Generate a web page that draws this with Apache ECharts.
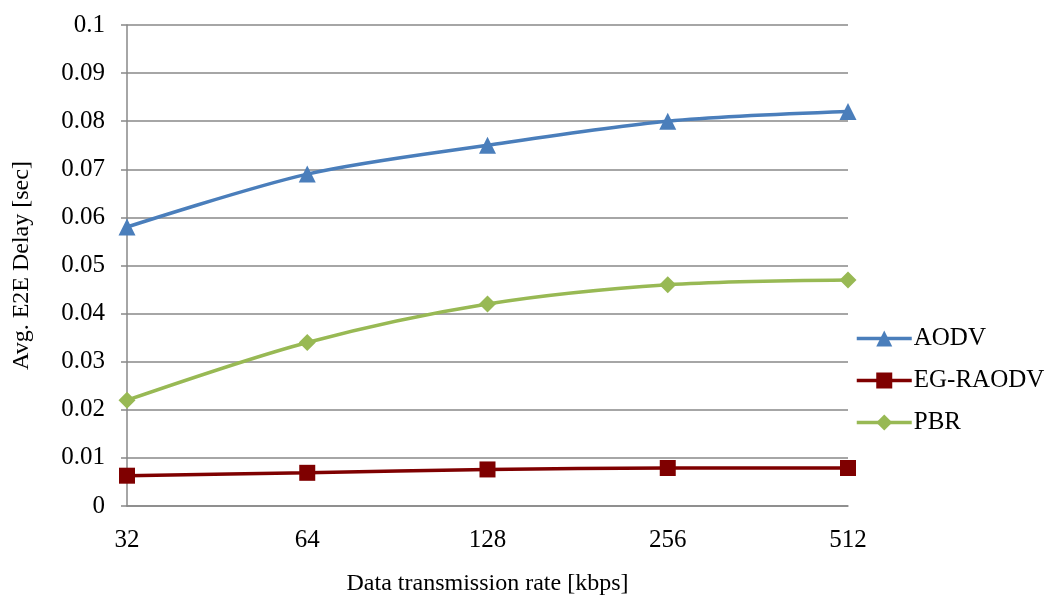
<!DOCTYPE html>
<html><head><meta charset="utf-8">
<script src="https://cdn.jsdelivr.net/npm/echarts@6/dist/echarts.min.js"></script>
<style>html,body{margin:0;padding:0;background:#fff}#c{width:1053px;height:596px}</style>
</head><body><div id="c"></div>
<script>
const categories = ['32','64','128','256','512'];
const yTicks = [0,0.01,0.02,0.03,0.04,0.05,0.06,0.07,0.08,0.09,0.1];
const aodv = [0.058,0.069,0.075,0.080,0.082];
const egraodv = [0.0063,0.0069,0.0076,0.0079,0.0079];
const pbr = [0.022,0.034,0.042,0.046,0.047];

const font = 'Liberation Serif';
const chart = echarts.init(document.getElementById('c'));
const mk = (name, data, color, symbol, size) => ({
  name, type:'line', data, smooth:0.3, symbol, symbolSize:size,
  lineStyle:{color, width:3.5}, itemStyle:{color}, emphasis:{disabled:true}
});
chart.setOption({
  animation:false,
  textStyle:{fontFamily:font},
  grid:{left:127,right:205,top:25,bottom:90,containLabel:false,outerBoundsMode:'none'},
  legend:{orient:'vertical',left:850,top:321,itemWidth:55,itemHeight:20,itemGap:17,
    lineStyle:{width:3.5},
    textStyle:{fontFamily:font,fontSize:25,color:'#000',padding:[0,0,0,-3]},
    data:[{name:'AODV'},{name:'EG-RAODV'},{name:'PBR'}]},
  xAxis:{type:'category',data:categories,boundaryGap:false,
    name:'Data transmission rate [kbps]',nameLocation:'middle',nameGap:66,
    nameTextStyle:{fontFamily:font,fontSize:24,color:'#000'},
    axisLine:{lineStyle:{color:'#888',width:1.5}},axisTick:{show:false},
    axisLabel:{fontFamily:font,fontSize:25,color:'#000',margin:22},
    splitLine:{show:false}},
  yAxis:{type:'value',min:yTicks[0],max:yTicks[yTicks.length-1],interval:0.01,
    name:'Avg. E2E Delay [sec]',nameLocation:'middle',nameGap:93,nameRotate:90,
    nameTextStyle:{fontFamily:font,fontSize:24,color:'#000'},
    axisLine:{show:true,lineStyle:{color:'#888',width:1.5}},
    axisTick:{show:true,inside:false,length:6,lineStyle:{color:'#888',width:1.5}},
    axisLabel:{fontFamily:font,fontSize:25,color:'#000',margin:22,
      formatter:v=>String(parseFloat(v.toFixed(3)))},
    splitLine:{show:true,lineStyle:{color:'#888',width:1.5}}},
  series:[
    mk('AODV',aodv,'#4a7ebb','triangle',17),
    mk('EG-RAODV',egraodv,'#7f0000','rect',16),
    mk('PBR',pbr,'#98b954','diamond',17)
  ]
});
</script></body></html>
